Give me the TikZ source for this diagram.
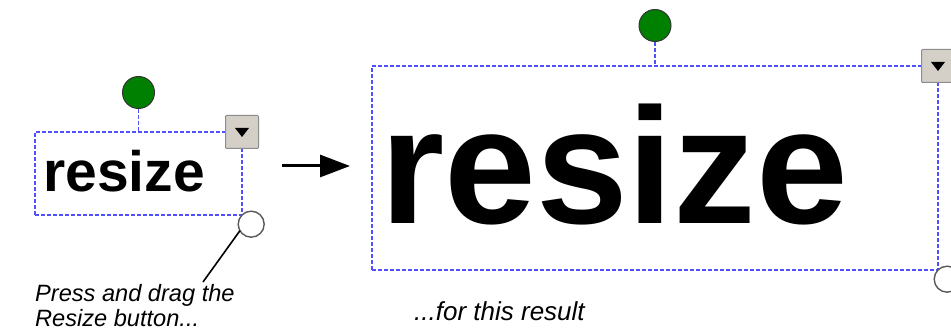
\documentclass[tikz,border=0pt]{standalone}
\usepackage{fontspec}
\setmainfont{Liberation Sans}
\usetikzlibrary{positioning, arrows.meta}
\definecolor{selblue}{RGB}{80,80,255}
\definecolor{rotgreen}{RGB}{0,128,0}
\definecolor{btngray}{RGB}{212,208,200}

\begin{document}
\begin{tikzpicture}[x=1pt, y=-1pt,
    selbox/.style = {draw=selblue, line width=1.6pt, dash pattern=on 4pt off 2pt, inner sep=0pt, outer sep=0pt},
    selline/.style = {selblue, line width=1.6pt, dash pattern=on 4pt off 2pt},
    rotknob/.style = {circle, draw=black!80, fill=rotgreen, line width=1pt, minimum size=32pt, inner sep=0pt},
    sizeknob/.style = {circle, draw=black!65, fill=white, line width=1.4pt, minimum size=26pt, inner sep=0pt, outer sep=0pt},
    menubtn/.style = {draw=black!45, fill=btngray, line width=1pt, rounded corners=1pt, minimum size=33pt, inner sep=0pt},
    caption/.style = {font=\fontsize{23.6}{25}\selectfont\itshape, inner sep=0pt, align=left}]
    \useasboundingbox (0,0) rectangle (951,336);

    % before
    \node[selbox, minimum width=207pt, minimum height=83pt] (smallbox) at (138.5,173.5) {};
    \node[inner sep=0pt, anchor=base west, font=\fontsize{57}{60}\selectfont\bfseries] (smalltext) at (43,192) {resize};
    \node[rotknob, above=23pt of smallbox.north] (smallrot) {};
    \draw[selline] (smallrot) -- (smallbox.north);
    \node[menubtn] (smallmenu) at (smallbox.north east) {};
    \fill ([shift={(-7pt,4pt)}]smallmenu.center) -- ++(14pt,0pt) -- ++(-7pt,-9pt) -- cycle;
    \node[sizeknob, anchor=north west] (smallsize) at (smallbox.south east) {};

    \node[caption, anchor=north west] (dragtext) at (35,284) {Press and drag the\\Resize button...};
    \coordinate (pointtip) at (203,282);
    \draw[line width=1.6pt] (smallsize.210) -- (pointtip);

    % arrow
    \coordinate (arrowtail) at (282,166);
    \coordinate (arrowtip) at (350,166);
    \draw[line width=3pt, -{Triangle[length=30pt, width=22pt]}] (arrowtail) -- (arrowtip);

    % after
    \node[selbox, minimum width=566pt, minimum height=204pt] (bigbox) at (655,168) {};
    \node[inner sep=0pt, anchor=base west, font=\fontsize{165}{170}\selectfont\bfseries] (bigtext) at (380,224) {resize};
    \node[rotknob, above=24pt of bigbox.north] (bigrot) {};
    \draw[selline] (bigrot) -- (bigbox.north);
    \node[menubtn] (bigmenu) at (bigbox.north east) {};
    \fill ([shift={(-7pt,4pt)}]bigmenu.center) -- ++(14pt,0pt) -- ++(-7pt,-9pt) -- cycle;
    \node[sizeknob, anchor=north west] (bigsize) at (bigbox.south east) {};

    \node[caption, anchor=base west, font=\fontsize{26}{28}\selectfont\itshape] (resulttext) at (414,321) {...for this result};
\end{tikzpicture}
\end{document}
